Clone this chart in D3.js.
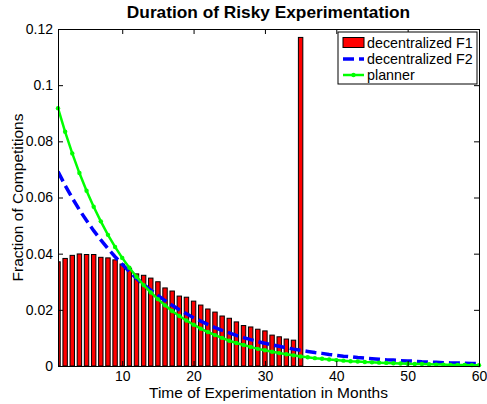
<!DOCTYPE html>
<html>
<head>
<meta charset="utf-8">
<script src="https://cdn.jsdelivr.net/npm/d3@7"></script>
<style>
  body { margin: 0; background: #fff; }
  svg { display: block; font-family: "Liberation Sans", Arial, sans-serif; }
</style>
</head>
<body>
<div id="chart"></div>
<script>
// bars: decentralized F1, months 1..35
const barMonths = d3.range(1, 36);
const barF1 = [
  0.0371, 0.0383, 0.0394, 0.0399, 0.0397, 0.0397, 0.0387, 0.0385, 0.0378, 0.0363,
  0.0348, 0.0328, 0.0323, 0.0313, 0.0300, 0.0278, 0.0267, 0.0249, 0.0245, 0.0231,
  0.0217, 0.0203, 0.0192, 0.0178, 0.0170, 0.0157, 0.0144, 0.0139, 0.0131, 0.0125,
  0.0110, 0.0104, 0.0096, 0.0092, 0.1170
];

// lines: months 1..60
const lineMonths = d3.range(1, 61);
const lineF2 = [
  0.0692, 0.0643, 0.0598, 0.0556, 0.0518, 0.0482, 0.0449, 0.0418, 0.0389, 0.0362,
  0.0336, 0.0312, 0.0290, 0.0270, 0.0251, 0.0233, 0.0216, 0.0200, 0.0186, 0.0172,
  0.0160, 0.0148, 0.0137, 0.0127, 0.0118, 0.0109, 0.0101, 0.0094, 0.0087, 0.0081,
  0.0075, 0.0070, 0.0065, 0.0060, 0.0056, 0.0052, 0.0048, 0.0045, 0.0041, 0.0038,
  0.0035, 0.0033, 0.0030, 0.0028, 0.0026, 0.0024, 0.0022, 0.0021, 0.0019, 0.0018,
  0.0017, 0.0015, 0.0014, 0.0013, 0.0012, 0.0011, 0.0011, 0.0010, 0.0009, 0.0009
];
const linePlanner = [
  0.0918, 0.0834, 0.0757, 0.0687, 0.0624, 0.0567, 0.0515, 0.0467, 0.0424, 0.0385,
  0.0350, 0.0318, 0.0288, 0.0262, 0.0238, 0.0216, 0.0196, 0.0178, 0.0162, 0.0147,
  0.0133, 0.0121, 0.0110, 0.0100, 0.0090, 0.0082, 0.0075, 0.0068, 0.0061, 0.0056,
  0.0051, 0.0046, 0.0042, 0.0038, 0.0034, 0.0031, 0.0028, 0.0026, 0.0023, 0.0021,
  0.0019, 0.0017, 0.0016, 0.0014, 0.0013, 0.0012, 0.0011, 0.0010, 0.0009, 0.0008,
  0.0007, 0.0007, 0.0006, 0.0005, 0.0005, 0.0004, 0.0004, 0.0004, 0.0003, 0.0003
];

const xTicks = [10, 20, 30, 40, 50, 60];
const yTicks = [0, 0.02, 0.04, 0.06, 0.08, 0.1, 0.12];
const legendLabels = ['decentralized F1', 'decentralized F2', 'planner'];

const width = 487, height = 404;
const margin = { top: 29, right: 8, bottom: 38, left: 58 };
const w = width - margin.left - margin.right;
const h = height - margin.top - margin.bottom;

const svg = d3.select('#chart').append('svg').attr('width', width).attr('height', height);
const g = svg.append('g').attr('transform', `translate(${margin.left},${margin.top})`);

const x = d3.scaleLinear().domain([1, 60]).range([0, w]);
const y = d3.scaleLinear().domain([0, 0.12]).range([h, 0]);

svg.append('defs').append('clipPath').attr('id', 'clip')
  .append('rect').attr('width', w).attr('height', h);
const cg = g.append('g').attr('clip-path', 'url(#clip)');

// Bars
const bw = (x(2) - x(1)) * 0.62;
cg.selectAll('rect.bar').data(barMonths).enter().append('rect')
  .attr('class', 'bar')
  .attr('x', d => x(d) - bw / 2)
  .attr('y', (d, i) => y(barF1[i]))
  .attr('width', bw)
  .attr('height', (d, i) => h - y(barF1[i]))
  .style('fill', '#ff0000').style('stroke', '#000').style('stroke-width', 1);

// Lines
const line = d3.line().x(d => x(d[0])).y(d => y(d[1]));
const f2Pts = lineMonths.map((m, i) => [m, lineF2[i]]);
const plPts = lineMonths.map((m, i) => [m, linePlanner[i]]);

cg.append('path').datum(f2Pts).attr('d', line)
  .style('fill', 'none').style('stroke', '#0000ff').style('stroke-width', 3.5)
  .style('stroke-dasharray', '11,5');
cg.append('path').datum(plPts).attr('d', line)
  .style('fill', 'none').style('stroke', '#00ff00').style('stroke-width', 2.5);
g.selectAll('circle.pl').data(plPts).enter().append('circle')
  .attr('class', 'pl')
  .attr('cx', d => x(d[0])).attr('cy', d => y(d[1])).attr('r', 2.2)
  .style('fill', '#00ff00');

// Axes (MATLAB style: ticks inward, box)
const tickLen = 5;
const xAxisB = g.append('g').attr('transform', `translate(0,${h})`)
  .call(d3.axisBottom(x).tickValues(xTicks).tickSize(-tickLen).tickPadding(5));
const xAxisT = g.append('g')
  .call(d3.axisTop(x).tickValues(xTicks).tickSize(-tickLen).tickFormat(''));
const yAxisL = g.append('g')
  .call(d3.axisLeft(y).tickValues(yTicks).tickSize(-tickLen).tickPadding(5).tickFormat(d3.format('')));
const yAxisR = g.append('g').attr('transform', `translate(${w},0)`)
  .call(d3.axisRight(y).tickValues(yTicks).tickSize(-tickLen).tickFormat(''));
[xAxisB, xAxisT, yAxisL, yAxisR].forEach(a => {
  a.select('.domain').style('stroke', '#000').style('stroke-width', 1);
  a.selectAll('.tick line').style('stroke', '#000');
  a.selectAll('text').style('font-size', '14px').style('fill', '#000')
    .style('font-family', '"Liberation Sans", Arial, sans-serif');
});

// Titles
svg.append('text').attr('x', margin.left + w / 2).attr('y', 18)
  .attr('text-anchor', 'middle').style('font-size', '17.3px').style('font-weight', 'bold')
  .text('Duration of Risky Experimentation');
svg.append('text').attr('x', margin.left + w / 2).attr('y', 398)
  .attr('text-anchor', 'middle').style('font-size', '15.5px')
  .text('Time of Experimentation in Months');
svg.append('text').attr('transform', `translate(23,${margin.top + h / 2}) rotate(-90)`)
  .attr('text-anchor', 'middle').style('font-size', '15.5px')
  .text('Fraction of Competitions');

// Legend
const lg = svg.append('g').attr('transform', 'translate(338,32)');
lg.append('rect').attr('width', 139).attr('height', 52)
  .style('fill', '#fff').style('stroke', '#000').style('stroke-width', 1);
const rowY = [10.5, 27, 43];
lg.append('rect').attr('x', 5).attr('y', rowY[0] - 5).attr('width', 21).attr('height', 10)
  .style('fill', '#ff0000').style('stroke', '#000').style('stroke-width', 1);
lg.append('line').attr('x1', 5).attr('x2', 26).attr('y1', rowY[1]).attr('y2', rowY[1])
  .style('stroke', '#0000ff').style('stroke-width', 3.5).style('stroke-dasharray', '11,5');
lg.append('line').attr('x1', 5).attr('x2', 26).attr('y1', rowY[2]).attr('y2', rowY[2])
  .style('stroke', '#00ff00').style('stroke-width', 2.5);
lg.append('circle').attr('cx', 15.5).attr('cy', rowY[2]).attr('r', 2.2).style('fill', '#00ff00');
lg.selectAll('text.lab').data(legendLabels).enter().append('text')
  .attr('class', 'lab').attr('x', 29).attr('y', (d, i) => rowY[i] + 5)
  .style('font-size', '14.3px').text(d => d);
</script>
</body>
</html>
